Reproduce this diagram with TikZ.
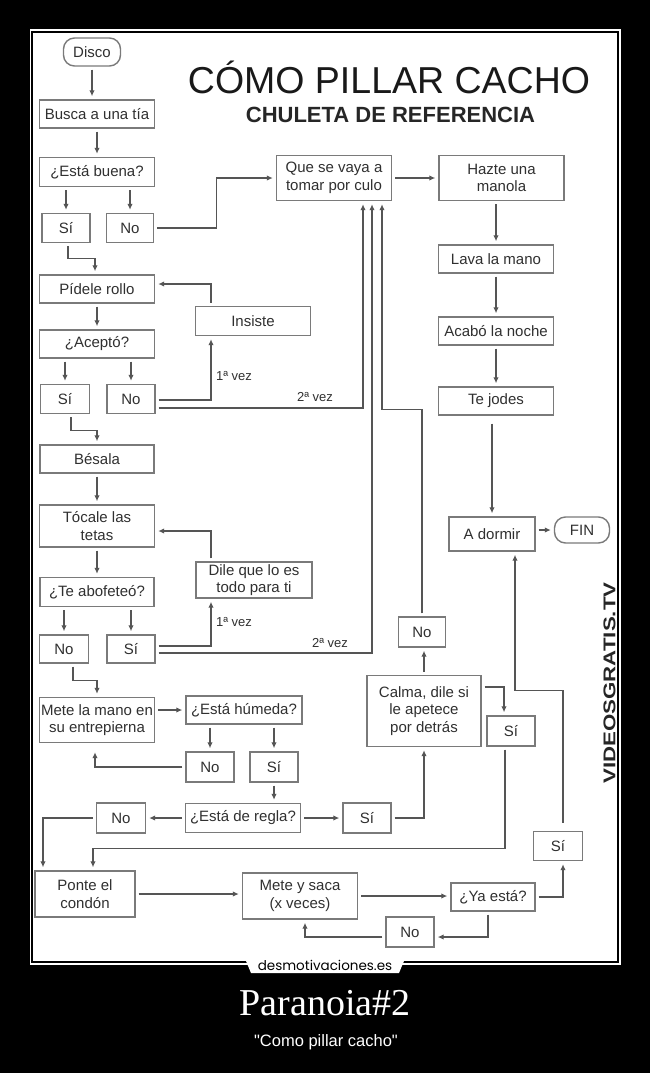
\documentclass[tikz,border=0pt]{standalone}
\usepackage{fontspec}
\setmainfont{Liberation Sans}
\newfontfamily\timesf{Liberation Serif}
\newfontfamily\popf{Poppins}
\newfontfamily\qfont[Ligatures=TeXOff]{Liberation Sans}
\usetikzlibrary{arrows.meta,calc}
\definecolor{bxc}{HTML}{7A7A7A}
\definecolor{lnc}{HTML}{555555}
\definecolor{txc}{HTML}{303030}
\begin{document}
\begin{tikzpicture}[x=1pt,y=-1pt,
  box/.style={draw=bxc, line width=1.4pt, fill=white, text=txc, font=\fontsize{15}{17.5}\selectfont, align=center, inner sep=0pt},
  arr/.style={draw=lnc, line width=1.3pt, -{Latex[length=6pt,width=5.5pt]}, shorten <=3pt, shorten >=3pt},
  lbl/.style={text=txc, font=\fontsize{13}{14}\selectfont, inner sep=0pt}]
\useasboundingbox (0,0) rectangle (650,1073);
\fill[black] (0,0) rectangle (650,1073);
\fill[white] (29.5,29.5) rectangle (620.5,965);
\draw[black, line width=1.2pt] (32,32) rectangle (618,962);
% logo tab
\fill[white] (245,958.5) -- (405,958.5) -- (399,973) -- (251,973) -- cycle;
\node[font=\popf\fontsize{13.5}{13.5}\selectfont, text=black, inner sep=0pt] (logo) at (325,965.5) {desmotivaciones.es};
\node[font=\timesf\fontsize{38}{40}\selectfont, text=white, anchor=base, inner sep=0pt] (ptitle) at (325,1015) {Paranoia\#2};
\node[font=\qfont\fontsize{16.5}{18}\selectfont, text=white, anchor=base, inner sep=0pt] (psub) at (326,1046) {"Como pillar cacho"};

% titles
\node[font=\fontsize{37.5}{40}\selectfont, text=black!90, anchor=base, inner sep=0pt] (title) at (389,93) {CÓMO PILLAR CACHO};
\node[font=\bfseries\fontsize{22}{24}\selectfont, text=black!85, anchor=base, inner sep=0pt] (subtitle) at (390.5,122) {CHULETA DE REFERENCIA};
\node[font=\bfseries\fontsize{17}{18}\selectfont, text=black!85, rotate=90, inner sep=0pt] (vg) at (609.5,683) {\scalebox{1.31}[1]{VIDEOSGRATIS.TV}};

% nodes
\node[box, rounded corners=11pt, minimum width=57, minimum height=28] (disco) at (92,52) {Disco};
\node[box, minimum width=115, minimum height=28] (busca) at (97,114) {Busca a una tía};
\node[box, minimum width=115, minimum height=29] (buena) at (97,172) {¿Está buena?};
\node[box, minimum width=48, minimum height=29] (si1) at (66,228) {Sí};
\node[box, minimum width=47, minimum height=29] (no1) at (130,228) {No};
\node[box, minimum width=115, minimum height=28] (pidele) at (97,289) {Pídele rollo};
\node[box, minimum width=115, minimum height=29] (insiste) at (253,321) {Insiste};
\node[box, minimum width=115, minimum height=28] (acepto) at (97,344) {¿Aceptó?};
\node[box, minimum width=49, minimum height=29] (si2) at (65,399) {Sí};
\node[box, minimum width=48, minimum height=29] (no2) at (131,399) {No};
\node[box, minimum width=114, minimum height=28] (besala) at (97,459) {Bésala};
\node[box, minimum width=115, minimum height=42] (tocale) at (97,526) {Tócale las\\tetas};
\node[box, minimum width=116, minimum height=36] (dile) at (254,580) {Dile que lo es\\todo para ti};
\node[box, minimum width=114, minimum height=29] (abofeteo) at (97,592) {¿Te abofeteó?};
\node[box, minimum width=49, minimum height=28] (no3) at (64,649) {No};
\node[box, minimum width=48, minimum height=28] (si3) at (131,649) {Sí};
\node[box, minimum width=115, minimum height=45] (mete) at (97,720) {Mete la mano en\\su entrepierna};
\node[box, minimum width=116, minimum height=28] (humeda) at (244,710) {¿Está húmeda?};
\node[box, minimum width=48, minimum height=30] (no4) at (210,767) {No};
\node[box, minimum width=48, minimum height=30] (si4) at (274,767) {Sí};
\node[box, minimum width=115, minimum height=29] (regla) at (243,818) {¿Está de regla?};
\node[box, minimum width=49, minimum height=30] (no5) at (121,818) {No};
\node[box, minimum width=48, minimum height=30] (si5) at (367,818) {Sí};
\node[box, minimum width=100, minimum height=46] (ponte) at (85,894) {Ponte el\\condón};
\node[box, minimum width=115, minimum height=46] (metesaca) at (300,896) {Mete y saca\\(x veces)};
\node[box, minimum width=84, minimum height=28] (yaesta) at (493,897) {¿Ya está?};
\node[box, minimum width=48, minimum height=30] (no6) at (410,932) {No};
\node[box, minimum width=49, minimum height=29] (si6) at (558,846) {Sí};
\node[box, minimum width=115, minimum height=45] (quese) at (334,178) {Que se vaya a\\tomar por culo};
\node[box, minimum width=125, minimum height=45] (hazte) at (501.5,178) {Hazte una\\manola};
\node[box, minimum width=115, minimum height=28] (lava) at (496,259) {Lava la mano};
\node[box, minimum width=115, minimum height=28] (acabo) at (496,331) {Acabó la noche};
\node[box, minimum width=115, minimum height=28] (tejodes) at (496,401) {Te jodes};
\node[box, minimum width=86, minimum height=34] (dormir) at (492,534) {A dormir};
\node[box, rounded corners=11pt, minimum width=55, minimum height=26] (fin) at (582,530) {FIN};
\node[box, minimum width=47, minimum height=30] (no7) at (422,632) {No};
\node[box, minimum width=114, minimum height=71] (calma) at (424,711) {Calma, dile si\\le apetece\\por detrás};
\node[box, minimum width=48, minimum height=30] (si7) at (511,731) {Sí};

% labels
\node[lbl] (l1a) at (234,376) {1ª vez};
\node[lbl] (l2a) at (315,397) {2ª vez};
\node[lbl] (l1b) at (234,622) {1ª vez};
\node[lbl] (l2b) at (330,643) {2ª vez};

% connectors
\draw[arr] (disco.south) -- (disco.south |- busca.north);
\draw[arr] (busca) -- (buena);
\draw[arr] (buena.south -| si1) -- (si1);
\draw[arr] (buena.south -| no1) -- (no1);
\draw[arr] ([xshift=2pt]si1.south) -- ++(0,15) -| ([xshift=-2pt]pidele.north);
\draw[arr] (no1.east) -- ++(62,0) |- (quese.west);
\draw[arr] (pidele) -- (acepto);
\draw[arr] ([xshift=-42pt]insiste.north) |- ([yshift=5pt]pidele.east);
\draw[arr] (acepto.south -| si2) -- (si2);
\draw[arr] (acepto.south -| no2) -- (no2);
\draw[arr] ([yshift=-1pt]no2.east) -| ([xshift=-42pt]insiste.south);
\draw[arr] ([yshift=-9pt]no2.east) -| ([xshift=29pt]quese.south);
\draw[arr] ([xshift=6pt]si2.south) -- ++(0,16) -| (besala.north);
\draw[arr] (besala) -- (tocale);
\draw[arr] (tocale) -- (abofeteo);
\draw[arr] ([xshift=-43pt]dile.north) |- ([yshift=-5pt]tocale.east);
\draw[arr] (abofeteo.south -| no3) -- (no3);
\draw[arr] (abofeteo.south -| si3) -- (si3);
\draw[arr] ([yshift=3pt]si3.east) -| ([xshift=-43pt]dile.south);
\draw[arr] ([yshift=-4pt]si3.east) -| ([xshift=38pt]quese.south);
\draw[arr] ([xshift=9pt]no3.south) -- ++(0,17) -| (mete.north);
\draw[arr] (no7.north) -- ++(0,-207) -| ([xshift=48pt]quese.south);
\draw[arr] (quese) -- (hazte);
\draw[arr] (hazte.south -| lava) -- (lava);
\draw[arr] (lava) -- (acabo);
\draw[arr] (acabo) -- (tejodes);
\draw[arr, shorten <=8pt] (tejodes.south -| dormir) -- (dormir);
\draw[arr] (dormir.east |- fin) -- (fin);
\draw[arr] (mete.east |- humeda) -- (humeda);
\draw[arr] (humeda.south -| no4) -- (no4);
\draw[arr] (humeda.south -| si4) -- (si4);
\draw[arr, shorten >=9pt] (no4.west) -| ([xshift=-2pt]mete.south);
\draw[arr] (si4) -- (si4 |- regla.north);
\draw[arr] (regla) -- (no5);
\draw[arr] (regla) -- (si5);
\draw[arr] (si5.east) -| (calma.south);
\draw[arr] (no5.west) -| ([xshift=-42pt]ponte.north);
\draw[arr] ([xshift=-6pt]si7.south) -- ++(0,102) -| ([xshift=8pt]ponte.north);
\draw[arr] ([yshift=24pt]calma.east) -| ([xshift=-7pt]si7.north);
\draw[arr] (calma.north) -- (calma.north |- no7.south);
\draw[arr] (ponte.east) -- (ponte.east -| metesaca.west);
\draw[arr] (metesaca.east) -- (metesaca.east -| yaesta.west);
\draw[arr] (yaesta.east) -| ([xshift=5pt]si6.south);
\draw[arr] ([xshift=-5pt]yaesta.south) |- ([yshift=-5pt]no6.east);
\draw[arr] ([yshift=-5pt]no6.west) -| ([xshift=5pt]metesaca.south);
\draw[arr, shorten <=8pt] ([xshift=5pt]si6.north) -- ++(0,-140) -| ([xshift=23pt]dormir.south);
\end{tikzpicture}
\end{document}
